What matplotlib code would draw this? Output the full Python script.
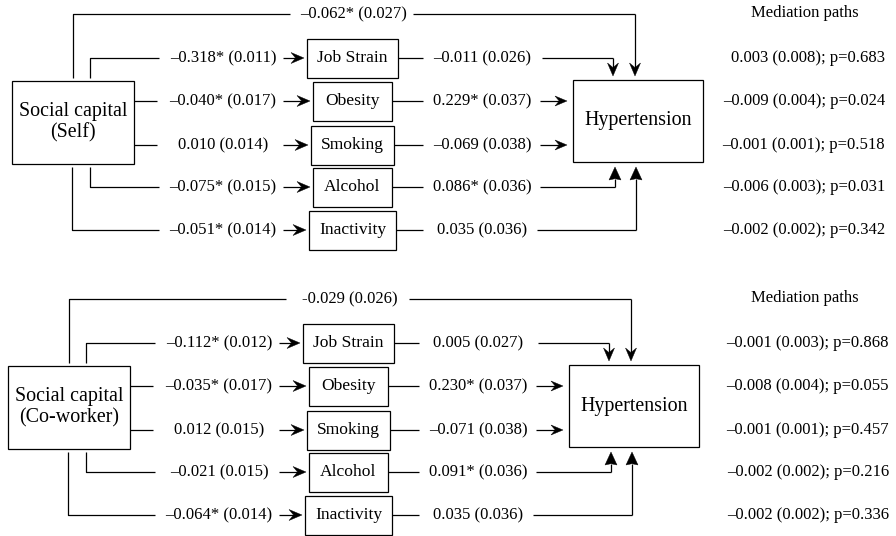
import matplotlib.pyplot as plt
from matplotlib.patches import Rectangle

plt.rcParams["font.family"] = ["Liberation Serif", "DejaVu Serif"]

# path coefficients
mediators = ["Job Strain", "Obesity", "Smoking", "Alcohol", "Inactivity"]

# Social capital (Self)
self_a_coef = [-0.318, -0.040, 0.010, -0.075, -0.051]
self_a_se = [0.011, 0.017, 0.014, 0.015, 0.014]
self_a_sig = [True, True, False, True, True]
self_b_coef = [-0.011, 0.229, -0.069, 0.086, 0.035]
self_b_se = [0.026, 0.037, 0.038, 0.036, 0.036]
self_b_sig = [False, True, False, True, False]
self_direct = (-0.062, 0.027, True)
self_med_est = [0.003, -0.009, -0.001, -0.006, -0.002]
self_med_se = [0.008, 0.004, 0.001, 0.003, 0.002]
self_med_p = [0.683, 0.024, 0.518, 0.031, 0.342]

# Social capital (Co-worker)
cow_a_coef = [-0.112, -0.035, 0.012, -0.021, -0.064]
cow_a_se = [0.012, 0.017, 0.015, 0.015, 0.014]
cow_a_sig = [True, True, False, False, True]
cow_b_coef = [0.005, 0.230, -0.071, 0.091, 0.035]
cow_b_se = [0.027, 0.037, 0.038, 0.036, 0.036]
cow_b_sig = [False, True, False, True, False]
cow_direct = (-0.029, 0.026, False)
cow_med_est = [-0.001, -0.008, -0.001, -0.002, -0.002]
cow_med_se = [0.003, 0.004, 0.001, 0.002, 0.002]
cow_med_p = [0.868, 0.055, 0.457, 0.216, 0.336]

# layout of one panel, in pixels
ROW_Y = [58, 101, 145, 187, 230]
DIRECT_Y = 14
BOX_W = [91, 79, 83, 79, 87]
BOX_H = 39
BOX_CX = 352.5
LW = 0.9


def fmt(coef, se, sig, dash="\u2013"):
    s = f"{abs(coef):.3f}"
    if coef < 0:
        s = dash + s
    if sig:
        s += "*"
    return f"{s} ({se:.3f})"


def fmt_med(est, se, p):
    s = f"{abs(est):.3f}"
    if est < 0:
        s = "\u2013" + s
    return f"{s} ({se:.3f}); p={p:.3f}"


def line(ax, xs, ys):
    ax.plot(xs, ys, color="black", lw=LW, solid_capstyle="butt")


def arrow(ax, p0, p1, length=9, width=9, notch=0.35):
    """Straight line from p0 to p1 ending in a filled stealth head."""
    (x0, y0), (x1, y1) = p0, p1
    d = ((x1 - x0) ** 2 + (y1 - y0) ** 2) ** 0.5
    ux, uy = (x1 - x0) / d, (y1 - y0) / d
    px, py = -uy, ux
    bx, by = x1 - ux * length, y1 - uy * length
    nx, ny = x1 - ux * length * (1 - notch), y1 - uy * length * (1 - notch)
    line(ax, [x0, nx], [y0, ny])
    ax.fill([x1, bx + px * width / 2, nx, bx - px * width / 2],
            [y1, by + py * width / 2, ny, by - py * width / 2],
            color="black", lw=0.3)


def box(ax, x0, y0, x1, y1):
    ax.add_patch(Rectangle((x0, y0), x1 - x0, y1 - y0, fill=False,
                           ec="black", lw=LW))


def draw_panel(ax, oy, dx, med_x, title, a, b, direct, med, dash="\u2013"):
    X = lambda x: x + dx
    Y = lambda y: y + oy
    rows = [Y(r) for r in ROW_Y]

    # exposure box
    box(ax, X(12), Y(81), X(134), Y(164))
    ax.text(X(73), Y(122), "Social capital\n" + title, ha="center", va="center",
            fontsize=14.4, linespacing=1.15)

    # outcome box
    box(ax, X(573), Y(80), X(703), Y(162))
    ax.text(X(638), Y(121), "Hypertension", ha="center", va="center",
            fontsize=14.4)

    # direct path
    dy = Y(DIRECT_Y)
    line(ax, [X(73), X(73), X(290)], [Y(78), dy, dy])
    ax.text(X(354), dy, fmt(*direct, dash=dash), ha="center", va="center",
            fontsize=12)
    line(ax, [X(413), X(635)], [dy, dy])
    arrow(ax, (X(635), dy), (X(635), Y(76)), length=13, width=11)

    # left side: exposure -> mediators
    left_starts = [(90, 78), (134, None), (134, None), (90, 167), (72, 167)]
    for i, (name, y) in enumerate(zip(mediators, rows)):
        sx, sy = left_starts[i]
        if sy is None:
            line(ax, [X(sx), X(157)], [y, y])
        else:
            line(ax, [X(sx), X(sx), X(159)], [Y(sy), y, y])
        ax.text(X(223), y, a[i], ha="center", va="center", fontsize=12)
        bl = BOX_CX - BOX_W[i] / 2
        br = BOX_CX + BOX_W[i] / 2
        arrow(ax, (X(283), y), (X(bl - 3), y), length=13, width=11)
        box(ax, X(bl), y - BOX_H / 2, X(br), y + BOX_H / 2)
        ax.text(X(BOX_CX), y, name, ha="center", va="center", fontsize=12.6)

        # right side: mediators -> outcome
        line(ax, [X(br), X(423)], [y, y])
        ax.text(X(482), y, b[i], ha="center", va="center", fontsize=12)

    # mediator -> outcome routing
    line(ax, [X(542), X(613)], [rows[0], rows[0]])
    arrow(ax, (X(613), rows[0]), (X(613), Y(76)), length=13, width=11)
    arrow(ax, (X(540), rows[1]), (X(567), rows[1]), length=12, width=10)
    arrow(ax, (X(540), rows[2]), (X(567), rows[2]), length=12, width=10)
    line(ax, [X(540), X(615)], [rows[3], rows[3]])
    arrow(ax, (X(615), rows[3]), (X(615), Y(167)), length=13, width=12,
          notch=0.1)
    line(ax, [X(537), X(636)], [rows[4], rows[4]])
    arrow(ax, (X(636), rows[4]), (X(636), Y(167)), length=13, width=12,
          notch=0.1)

    # mediation column
    ax.text(805, dy - 1, "Mediation paths", ha="center", va="center",
            fontsize=12)
    for txt, y in zip(med, rows):
        ax.text(med_x, y, txt, ha="right", va="center", fontsize=12)


fig = plt.figure(figsize=(8.96, 5.36), dpi=100)
ax = fig.add_axes([0, 0, 1, 1])
ax.set_xlim(0, 896)
ax.set_ylim(536, 0)
ax.axis("off")

self_a = [fmt(*v) for v in zip(self_a_coef, self_a_se, self_a_sig)]
self_b = [fmt(*v) for v in zip(self_b_coef, self_b_se, self_b_sig)]
self_med = [fmt_med(*v) for v in zip(self_med_est, self_med_se, self_med_p)]
cow_a = [fmt(*v) for v in zip(cow_a_coef, cow_a_se, cow_a_sig)]
cow_b = [fmt(*v) for v in zip(cow_b_coef, cow_b_se, cow_b_sig)]
cow_med = [fmt_med(*v) for v in zip(cow_med_est, cow_med_se, cow_med_p)]

draw_panel(ax, 0, 0, 885, "(Self)", self_a, self_b, self_direct, self_med)
draw_panel(ax, 285, -4, 889, "(Co-worker)", cow_a, cow_b, cow_direct, cow_med,
           dash="-")

fig.savefig("out.png", dpi=100)
